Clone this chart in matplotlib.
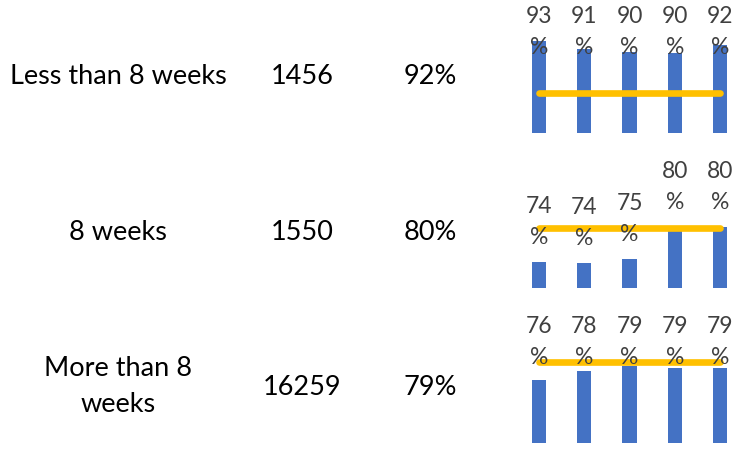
import matplotlib
matplotlib.use("Agg")
import matplotlib.pyplot as plt

# table columns
groups = ["Less than 8 weeks", "8 weeks", "More than 8\nweeks"]
counts = ["1456", "1550", "16259"]
overall = ["92%", "80%", "79%"]

# mini bar charts (5 periods each) and the 80% target line
bars_lt8 = [93.0, 91.0, 90.4, 90.1, 92.2]
bars_eq8 = [74.3, 74.2, 74.8, 80.1, 80.1]
bars_gt8 = [76.2, 78.0, 79.2, 78.7, 78.6]
target = [80, 80, 80, 80, 80]
periods = [0, 1, 2, 3, 4]

W, H = 749, 451
plt.rcParams["font.family"] = ["Lato", "DejaVu Sans"]

fig = plt.figure(figsize=(W / 100, H / 100), dpi=100)

BLUE = "#4472C4"
GOLD = "#FFC000"
LABEL_GREY = "#404040"

# text rows (pixel positions measured from the top)
col_x = [118, 302, 430]
baselines = [84, 240, 395]
for g, c, p, yb in zip(groups, counts, overall, baselines):
    fy = 1 - yb / H
    if "\n" in g:
        fig.text(col_x[0] / W, 1 - 386 / H, g, ha="center", va="center",
                 fontsize=19.5, linespacing=1.55)
    else:
        fig.text(col_x[0] / W, fy, g, ha="center", va="baseline", fontsize=19.5)
    fig.text(col_x[1] / W, fy, c, ha="center", va="baseline", fontsize=19.5)
    fig.text(col_x[2] / W, fy, p, ha="center", va="baseline", fontsize=19.5)

# mini chart geometry: (bottom px, ylim, px per unit, chart area top px)
series = [bars_lt8, bars_eq8, bars_gt8]
charts = [
    (133.3, (70, 100), 4.0, 0),
    (288.3, (70, 85), 6.07, 155),
    (443.3, (63, 85), 4.8, 310),
]
left_px, right_px = 516.4, 742.6

for vals, (bot, ylim, ppu, top_px) in zip(series, charts):
    height_px = (ylim[1] - ylim[0]) * ppu
    ax = fig.add_axes([left_px / W, 1 - bot / H, (right_px - left_px) / W, height_px / H])
    ax.set_xlim(-0.5, 4.5)
    ax.set_ylim(*ylim)
    ax.bar(periods, vals, width=0.31, color=BLUE, zorder=2)
    ax.plot(periods, target, color=GOLD, lw=4.8, solid_capstyle="round", zorder=3)
    ax.axis("off")

    clamp = H - (top_px + 31.7)
    for x, v in zip(periods, vals):
        dx, dy = ax.transData.transform((x, v))
        ly = min(dy + 40, clamp)
        fig.text(dx / W, ly / H, f"{v:.0f}\n%", ha="center", va="center",
                 fontsize=16.5, color=LABEL_GREY, linespacing=1.6, zorder=4)

fig.savefig("out.png", dpi=100)
